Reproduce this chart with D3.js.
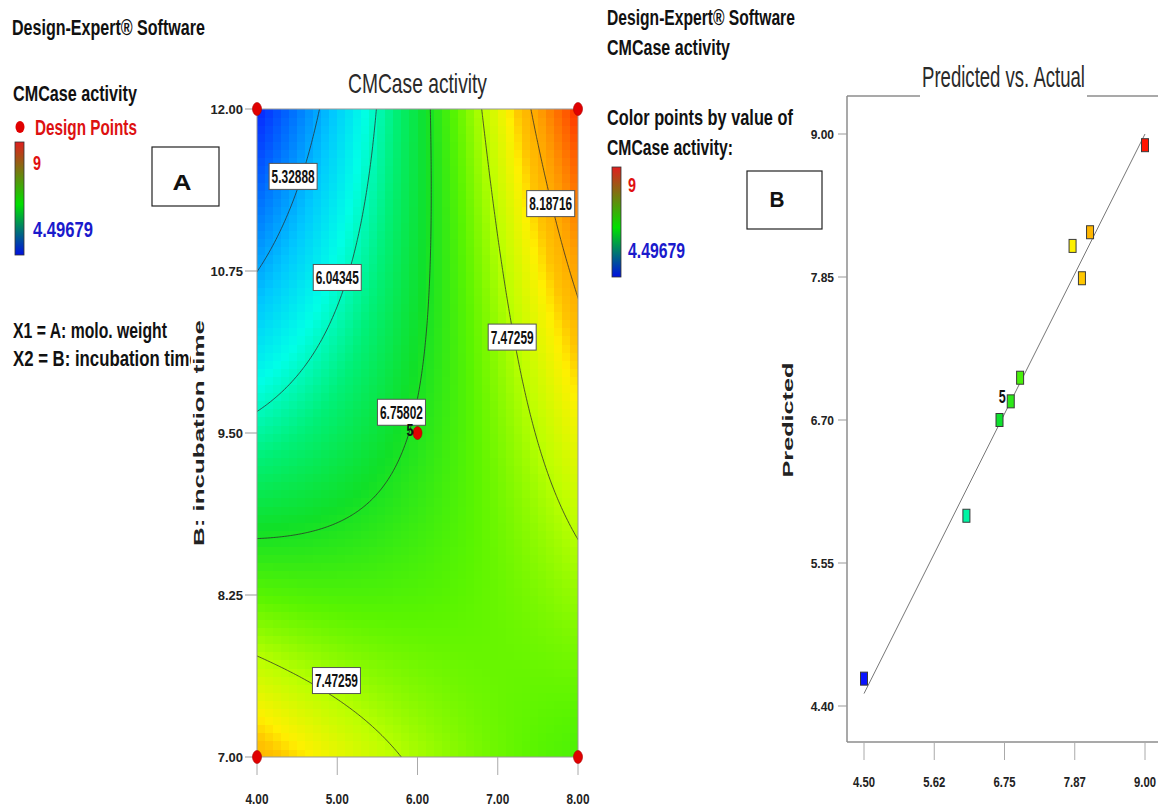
<!DOCTYPE html>
<html>
<head>
<meta charset="utf-8">
<script src="https://cdn.jsdelivr.net/npm/d3@7"></script>
<style>
  body { margin: 0; background: #fff; }
  svg { display: block; }
  text { font-family: "Liberation Sans Narrow", "Arial Narrow", "Liberation Sans", Arial, sans-serif; }
  .wide { font-family: "Liberation Sans", Arial, sans-serif; }
</style>
</head>
<body>
<div id="chart"></div>
<script>
// ---------- data ----------
// fitted quadratic response surface for CMCase activity, coded units (-1..1)
// order: intercept, A, B, AB, A^2, B^2
const coefs = [6.80, 0.80, -0.415, 1.355, 0.16, 0.20];
const rangeA = [4, 8];       // A: molo. weight
const rangeB = [7, 12];      // B: incubation time
const ticksA = [4, 5, 6, 7, 8];
const ticksB = [7, 8.25, 9.5, 10.75, 12];
const contourLevels = [5.32888, 6.04345, 6.75802, 7.47259, 8.18716];
// where each contour label sits (actual units)
const labelText = ["5.32888", "6.04345", "6.75802", "7.47259", "8.18716", "7.47259"];
const labelA = [4.45, 5.00, 5.80, 7.18, 7.66, 4.99];
const labelB = [11.48, 10.70, 9.66, 10.24, 11.27, 7.59];
// design points
const designA = [4, 8, 4, 8, 6];
const designB = [12, 12, 7, 7, 9.5];

// predicted vs actual
const actual    = [9.00, 8.12, 7.84, 7.99, 7.00, 6.85, 6.67, 6.14, 4.50];
const predicted = [8.91, 8.21, 8.10, 7.84, 7.04, 6.85, 6.70, 5.93, 4.62];
const pvTicksX = [4.5, 5.625, 6.75, 7.875, 9.0];
const pvTickLabelsX = ["4.50", "5.62", "6.75", "7.87", "9.00"];
const pvTicksY = [4.40, 5.55, 6.70, 7.85, 9.00];
const fitLine = [4.5, 9.0];

// colour map of the response
const colorStops = [4.5, 5.0, 5.5, 5.9, 6.3, 6.7, 7.1, 7.5, 7.85, 8.0, 8.3, 8.7, 9.0];
const colorHex = ["#0a14ff", "#006eff", "#00c8ff", "#00ffe6", "#00f078", "#10e028",
                  "#5af500", "#beff00", "#fff000", "#ffc400", "#ffa000", "#ff5a00", "#ff1400"];

// ---------- helpers ----------
const color = d3.scaleLinear().domain(colorStops).range(colorHex)
  .interpolate(d3.interpolateRgb).clamp(true);

const codedA = d3.scaleLinear().domain([-1, 1]).range(rangeA);
const codedB = d3.scaleLinear().domain([-1, 1]).range(rangeB);
function model(a, b) {
  const c = coefs;
  return c[0] + c[1] * a + c[2] * b + c[3] * a * b + c[4] * a * a + c[5] * b * b;
}

const svg = d3.select("#chart").append("svg")
  .attr("width", 1158).attr("height", 807);
const defs = svg.append("defs");

// text squeezed horizontally to a given width (the source image is stretched tall)
function txt(g, s, x, y, o) {
  const t = g.append("text").attr("x", 0).attr("y", 0).text(s)
    .attr("font-size", o.fs)
    .attr("font-weight", o.bold === false ? 400 : 700)
    .attr("fill", o.fill || "#111");
  if (o.anchor) t.attr("text-anchor", o.anchor);
  if (o.cls) t.attr("class", o.cls);
  const sx = o.w ? o.w / t.node().getComputedTextLength() : 1;
  t.attr("transform", `translate(${x},${y})${o.rot ? ` rotate(${o.rot})` : ""} scale(${sx},1)`);
  return t;
}

function colorBar(id, x, y, w, h) {
  const lg = defs.append("linearGradient").attr("id", id)
    .attr("x1", 0).attr("y1", 0).attr("x2", 0).attr("y2", 1);
  lg.append("stop").attr("offset", "0%").attr("stop-color", "#e01e1e");
  lg.append("stop").attr("offset", "55%").attr("stop-color", "#00e000");
  lg.append("stop").attr("offset", "100%").attr("stop-color", "#0010e0");
  svg.append("rect").attr("x", x).attr("y", y).attr("width", w).attr("height", h)
    .attr("fill", `url(#${id})`).attr("stroke", "#333").attr("stroke-width", 0.8);
}

// ---------- panel A : contour ----------
const x = d3.scaleLinear().domain(rangeA).range([257, 578]);
const y = d3.scaleLinear().domain(rangeB).range([757, 109]);

// side texts
const left = svg.append("g");
txt(left, "Design-Expert® Software", 12, 35, { fs: 22, w: 193 });
txt(left, "CMCase activity", 13, 101, { fs: 22, w: 124 });
left.append("ellipse").attr("cx", 20).attr("cy", 127).attr("rx", 4.5).attr("ry", 6)
  .attr("fill", "#e00000");
txt(left, "Design Points", 35, 135, { fs: 22, w: 102, fill: "#dd1111" });
colorBar("barA", 15, 142, 9, 113);
txt(left, "9", 33, 170, { fs: 21, w: 8, fill: "#e01010" });
txt(left, "4.49679", 33, 237, { fs: 22, w: 60, fill: "#1a1acc" });
txt(left, "X1 = A: molo. weight", 13, 338, { fs: 22, w: 154 });
// the axis title covers the end of this line in the original
defs.append("clipPath").attr("id", "cutX2").append("rect")
  .attr("x", 0).attr("y", 340).attr("width", 191).attr("height", 40);
left.append("g").attr("clip-path", "url(#cutX2)")
  .call(g => txt(g, "X2 = B: incubation time", 13, 366, { fs: 22, w: 186 }));

left.append("rect").attr("x", 152).attr("y", 147).attr("width", 67).attr("height", 59)
  .attr("fill", "#fff").attr("stroke", "#222").attr("stroke-width", 1.2);
txt(left, "A", 182, 190, { fs: 22, w: 19, anchor: "middle", cls: "wide" });

// title
txt(svg, "CMCase activity", d3.mean(rangeA.map(x)), 93,
  { fs: 28, w: 139, anchor: "middle", bold: false, fill: "#2a2a2a" });

// filled surface as blocky cells
defs.append("clipPath").attr("id", "plotA").append("rect")
  .attr("x", x(rangeA[0])).attr("y", y(rangeB[1]))
  .attr("width", x(rangeA[1]) - x(rangeA[0])).attr("height", y(rangeB[0]) - y(rangeB[1]));

const nCols = 40, nRows = 80;
const colA = d3.range(nCols).map(i => -1 + (i + 0.5) * 2 / nCols);
const rowB = d3.range(nRows).map(j => -1 + (j + 0.5) * 2 / nRows);
const cells = d3.cross(colA, rowB);
const cw = (x(rangeA[1]) - x(rangeA[0])) / nCols;
const ch = (y(rangeB[0]) - y(rangeB[1])) / nRows;
const plotA = svg.append("g").attr("clip-path", "url(#plotA)");
plotA.selectAll("rect.cell")
  .data(cells)
  .join("rect")
  .attr("class", "cell")
  .attr("x", d => x(codedA(d[0])) - cw / 2)
  .attr("y", d => y(codedB(d[1])) - ch / 2)
  .attr("width", cw + 0.6)
  .attr("height", ch + 0.6)
  .attr("fill", d => color(model(d[0], d[1])))
  .attr("shape-rendering", "crispEdges");

// contour lines (grid a bit wider than the plot so the border is not stroked)
const gn = 221, ext = 1.06;
const gA = d3.scaleLinear().domain([0, gn - 1]).range([-ext, ext]);
const gB = d3.scaleLinear().domain([0, gn - 1]).range([ext, -ext]);
const grid = new Array(gn * gn);
for (let j = 0; j < gn; j++)
  for (let i = 0; i < gn; i++) grid[i + j * gn] = model(gA(i), gB(j));
const iso = d3.contours().size([gn, gn]).thresholds(contourLevels)(grid);
const proj = d3.geoTransform({
  point(u, v) {
    this.stream.point(x(codedA(gA(u - 0.5))), y(codedB(gB(v - 0.5))));
  }
});
plotA.selectAll("path.iso")
  .data(iso)
  .join("path")
  .attr("class", "iso")
  .attr("d", d3.geoPath(proj))
  .attr("fill", "none")
  .attr("stroke", "#2b2b2b")
  .attr("stroke-width", 0.9)
  .attr("stroke-opacity", 0.85);

// frame
svg.append("rect")
  .attr("x", x(rangeA[0])).attr("y", y(rangeB[1]))
  .attr("width", x(rangeA[1]) - x(rangeA[0])).attr("height", y(rangeB[0]) - y(rangeB[1]))
  .attr("fill", "none").attr("stroke", "#999").attr("stroke-width", 1);

// contour labels
labelText.forEach((s, i) => {
  const g = svg.append("g").attr("transform", `translate(${x(labelA[i])},${y(labelB[i])})`);
  g.append("rect").attr("x", -24).attr("y", -13).attr("width", 48).attr("height", 26)
    .attr("fill", "#fff").attr("stroke", "#555").attr("stroke-width", 1);
  txt(g, s, 0, 6.5, { fs: 18, w: 43, anchor: "middle" });
});

// axes
const axA = svg.append("g");
axA.selectAll("line.ty").data(ticksB).join("line")
  .attr("x1", x(rangeA[0]) - 12).attr("x2", x(rangeA[0]))
  .attr("y1", d => y(d)).attr("y2", d => y(d))
  .attr("stroke", "#999");
ticksB.forEach(d => txt(axA, d3.format(".2f")(d), x(rangeA[0]) - 14, y(d) + 4.5,
  { fs: 13, anchor: "end", fill: "#222" }));
axA.selectAll("line.tx").data(ticksA).join("line")
  .attr("x1", d => x(d)).attr("x2", d => x(d))
  .attr("y1", y(rangeB[0])).attr("y2", y(rangeB[0]) + 18)
  .attr("stroke", "#aaa");
ticksA.forEach(d => txt(axA, d3.format(".2f")(d), x(d), 804,
  { fs: 15, w: 23, anchor: "middle", fill: "#222" }));
txt(svg, "B: incubation time", 204, d3.mean(rangeB.map(y)),
  { fs: 14, w: 226, anchor: "middle", cls: "wide", fill: "#222", rot: -90 });

// design points
svg.selectAll("ellipse.dp")
  .data(designA.map((a, i) => [a, designB[i]]))
  .join("ellipse")
  .attr("class", "dp")
  .attr("cx", d => x(d[0])).attr("cy", d => y(d[1]))
  .attr("rx", 4.5).attr("ry", 6.5)
  .attr("fill", "#e00000").attr("stroke", "#a00").attr("stroke-width", 0.6);
txt(svg, "5", x(designA[4]) - 4, y(designB[4]) + 3, { fs: 16, w: 7, anchor: "end" });

// ---------- panel B : predicted vs actual ----------
const right = svg.append("g");
txt(right, "Design-Expert® Software", 607, 25, { fs: 22, w: 188 });
txt(right, "CMCase activity", 607, 55, { fs: 22, w: 123 });
txt(right, "Color points by value of", 607, 125, { fs: 22, w: 186 });
txt(right, "CMCase activity:", 607, 155, { fs: 22, w: 126 });
colorBar("barB", 612, 167, 9, 110);
txt(right, "9", 628, 192, { fs: 21, w: 8, fill: "#e01010" });
txt(right, "4.49679", 628, 258, { fs: 22, w: 57, fill: "#1a1acc" });
right.append("rect").attr("x", 747).attr("y", 171).attr("width", 75).attr("height", 58)
  .attr("fill", "#fff").attr("stroke", "#222").attr("stroke-width", 1.2);
txt(right, "B", 777, 207, { fs: 22, w: 15, anchor: "middle", cls: "wide" });

const px = d3.scaleLinear().domain([4.5, 9.0]).range([864, 1145]);
const py = d3.scaleLinear().domain([4.4, 9.0]).range([706, 134]);
const frameL = 847, frameT = 96, frameB = 742, frameR = 1160;

const titleX = 1003.5, titleW = 163;
txt(svg, "Predicted vs. Actual", titleX, 87,
  { fs: 29, w: titleW, anchor: "middle", bold: false, fill: "#2a2a2a" });

const frame = svg.append("g").attr("stroke", "#8c8c8c").attr("stroke-width", 1.5);
frame.append("line").attr("x1", frameL).attr("x2", frameL).attr("y1", frameT).attr("y2", frameB);
frame.append("line").attr("x1", frameL).attr("x2", frameR).attr("y1", frameB).attr("y2", frameB);
frame.append("line").attr("x1", frameL).attr("x2", titleX - titleW / 2 - 2).attr("y1", frameT).attr("y2", frameT);
frame.append("line").attr("x1", titleX + titleW / 2 + 2).attr("x2", frameR).attr("y1", frameT).attr("y2", frameT);

const axB = svg.append("g");
axB.selectAll("line.pty").data(pvTicksY).join("line")
  .attr("x1", frameL - 9).attr("x2", frameL)
  .attr("y1", d => py(d)).attr("y2", d => py(d))
  .attr("stroke", "#999");
pvTicksY.forEach(d => txt(axB, d3.format(".2f")(d), frameL - 13, py(d) + 4.5,
  { fs: 12, anchor: "end", fill: "#222" }));
axB.selectAll("line.ptx").data(pvTicksX).join("line")
  .attr("x1", d => px(d)).attr("x2", d => px(d))
  .attr("y1", frameB).attr("y2", frameB + 18)
  .attr("stroke", "#aaa");
pvTicksX.forEach((d, i) => txt(axB, pvTickLabelsX[i], px(d), 787,
  { fs: 15, w: 22, anchor: "middle", fill: "#222" }));
txt(svg, "Predicted", 793, py(6.7),
  { fs: 14, w: 115, anchor: "middle", cls: "wide", fill: "#222", rot: -90 });

// y = x line
svg.append("path")
  .datum(fitLine)
  .attr("d", d3.line().x(d => px(d)).y(d => py(d)))
  .attr("stroke", "#777").attr("stroke-width", 1).attr("fill", "none");

// points
svg.selectAll("rect.pt")
  .data(actual.map((a, i) => ({ a, p: predicted[i] })))
  .join("rect")
  .attr("class", "pt")
  .attr("x", d => px(d.a) - 3.5).attr("y", d => py(d.p) - 6.5)
  .attr("width", 7).attr("height", 13)
  .attr("fill", d => color(d.a))
  .attr("stroke", "#3a3a3a").attr("stroke-width", 1);
txt(svg, "5", px(actual[5]) - 5, py(predicted[5]) + 2, { fs: 18, w: 7, anchor: "end" });
</script>
</body>
</html>
